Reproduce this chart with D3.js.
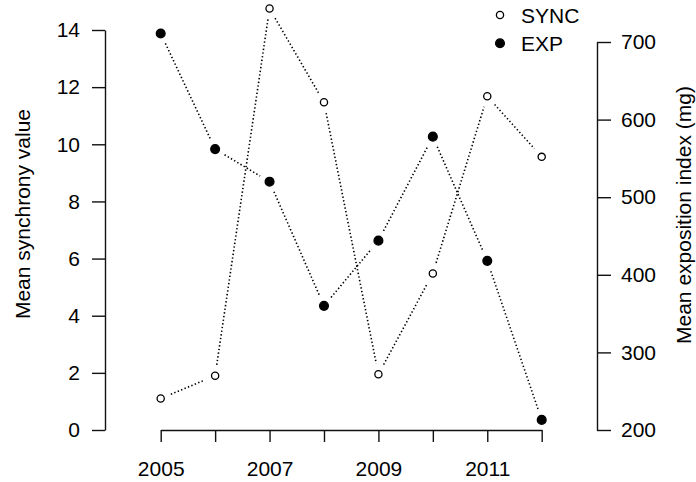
<!DOCTYPE html>
<html>
<head>
<meta charset="utf-8">
<script src="https://cdn.jsdelivr.net/npm/d3@7"></script>
<style>
  html, body { margin: 0; padding: 0; background: #fff; }
  text { font-family: Arial, "Liberation Sans", sans-serif; fill: #000; }
</style>
</head>
<body>
<svg id="chart" width="696" height="482"></svg>
<script>
const years = [2005, 2006, 2007, 2008, 2009, 2010, 2011, 2012]
const syncValues = [1.1, 1.9, 14.75, 11.47, 1.95, 5.48, 11.68, 9.56]
const expValues = [711, 562, 520, 360, 444, 578, 418, 213]
const syncTicks = [0, 2, 4, 6, 8, 10, 12, 14]
const expTicks = [200, 300, 400, 500, 600, 700]
const yearLabels = [2005, 2007, 2009, 2011]

window.addEventListener('load', () => {
  const svg = d3.select('#chart'),
    fontSize = 21

  const x = d3.scaleLinear().domain([2005, 2012]).range([160.7, 541.7]),
    ySync = d3.scaleLinear().domain([0, 14]).range([430, 30]),
    yExp = d3.scaleLinear().domain([200, 700]).range([430, 42])

  function styleAxis(g) {
    g.selectAll('path, line').attr('stroke', '#111').attr('stroke-width', 1.4)
    g.selectAll('text').attr('font-size', fontSize).attr('fill', '#000')
      .attr('font-family', 'Arial, "Liberation Sans", sans-serif')
  }

  svg.append('g')
    .attr('transform', 'translate(105,0)')
    .call(d3.axisLeft(ySync).tickValues(syncTicks).tickSize(13).tickSizeOuter(0).tickPadding(12))
    .call(styleAxis)

  svg.append('g')
    .attr('transform', 'translate(597,0)')
    .call(d3.axisRight(yExp).tickValues(expTicks).tickSize(14).tickSizeOuter(0).tickPadding(10))
    .call(styleAxis)

  svg.append('g')
    .attr('transform', 'translate(0,430)')
    .call(d3.axisBottom(x).tickValues(years).tickSize(12).tickSizeOuter(0).tickPadding(19)
      .tickFormat((d) => (yearLabels.includes(d) ? d : '')))
    .call(styleAxis)

  // axis titles
  svg.append('text')
    .attr('transform', 'translate(30,214) rotate(-90)')
    .attr('text-anchor', 'middle')
    .attr('font-size', fontSize)
    .text('Mean synchrony value')

  svg.append('text')
    .attr('transform', 'translate(691,215) rotate(-90)')
    .attr('text-anchor', 'middle')
    .attr('font-size', fontSize)
    .text('Mean exposition index (mg)')

  // type "b" lines: dotted segments with gaps round each point
  function drawSeries(values, yScale, filled) {
    const pts = values.map((v, i) => [x(years[i]), yScale(v)])
    const gap = 11
    const segs = d3.pairs(pts).map(([a, b]) => {
      const dx = b[0] - a[0], dy = b[1] - a[1], len = Math.hypot(dx, dy)
      const ux = dx / len, uy = dy / len
      return [[a[0] + ux * gap, a[1] + uy * gap], [b[0] - ux * gap, b[1] - uy * gap]]
    })
    svg.append('g')
      .selectAll('line')
      .data(segs)
      .enter()
      .append('line')
      .attr('x1', (d) => d[0][0]).attr('y1', (d) => d[0][1])
      .attr('x2', (d) => d[1][0]).attr('y2', (d) => d[1][1])
      .attr('stroke', '#000')
      .attr('stroke-width', 1.6)
      .attr('stroke-dasharray', '1.4,2.3')

    svg.append('g')
      .selectAll('circle')
      .data(pts)
      .enter()
      .append('circle')
      .attr('cx', (d) => d[0])
      .attr('cy', (d) => d[1])
      .attr('r', filled ? 4.4 : 3.6)
      .attr('fill', filled ? '#000' : 'none')
      .attr('stroke', '#000')
      .attr('stroke-width', 1.3)
  }

  drawSeries(syncValues, ySync, false)
  drawSeries(expValues, yExp, true)

  // legend
  const legend = svg.append('g')
  const items = [['SYNC', false], ['EXP', true]]
  items.forEach(([name, filled], i) => {
    const cy = 15 + i * 28.3
    legend.append('circle')
      .attr('cx', 500).attr('cy', cy)
      .attr('r', filled ? 4.4 : 3.6)
      .attr('fill', filled ? '#000' : 'none')
      .attr('stroke', '#000')
      .attr('stroke-width', 1.3)
    legend.append('text')
      .attr('x', 521).attr('y', cy)
      .attr('dy', '0.36em')
      .attr('font-size', fontSize)
      .text(name)
  })
})
</script>
</body>
</html>
